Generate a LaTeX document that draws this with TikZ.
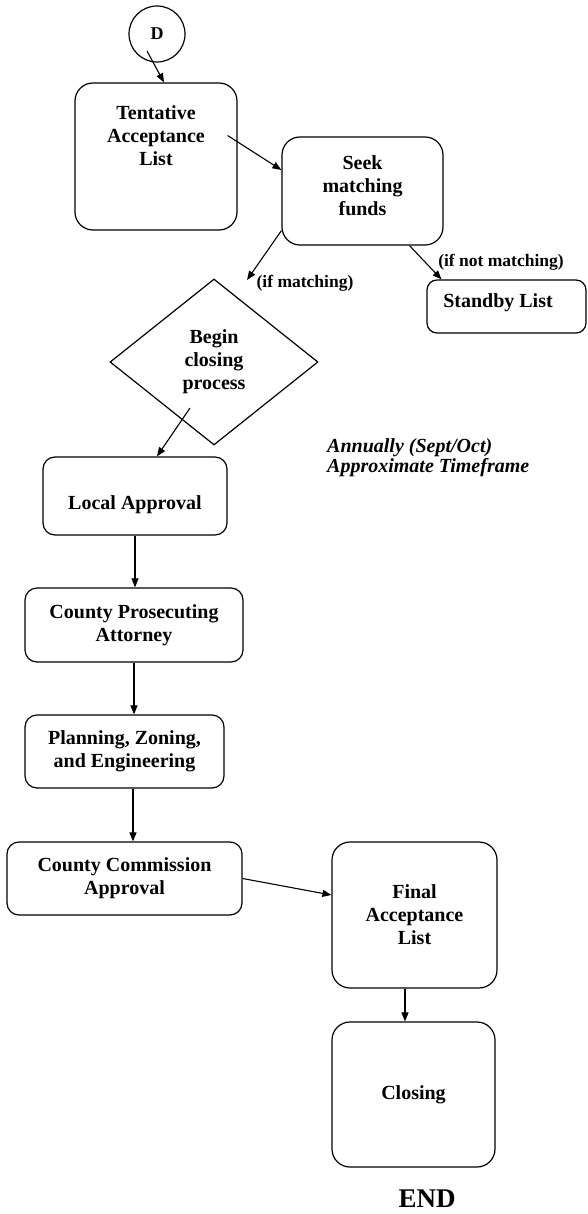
\documentclass[tikz,border=0pt]{standalone}
\usepackage{fontspec}
\setmainfont{Liberation Serif}
\usetikzlibrary{shapes.geometric,arrows.meta}

\begin{document}
\begin{tikzpicture}[x=1pt, y=-1pt, >={Triangle[length=9pt,width=7pt]},
    txt/.style={inner sep=0pt, align=center, font=\bfseries\fontsize{20}{23}\selectfont},
    box/.style={txt, draw, line width=1.2pt, rounded corners=#1},
    box/.default=12pt,
    cond/.style={inner sep=0pt, font=\bfseries\fontsize{17.5}{20}\selectfont},
    flow/.style={->, line width=1.1pt}]
    \useasboundingbox (0, 0) rectangle (587, 1214);
    % start and the tentative list
    \node[circle, draw, line width=1.2pt, minimum size=56pt, inner sep=0pt,
      font=\bfseries\fontsize{18}{18}\selectfont] (dnode) at (157, 34) {D};
    \node[box=18pt, minimum width=162pt, minimum height=147pt,
      label={[txt, yshift=21pt]center:Tentative\\Acceptance\\List}] (tent) at (156, 156.5) {};
    \node[box=18pt, minimum width=161pt, minimum height=108pt,
      label={[txt, yshift=5pt]center:Seek\\matching\\funds}] (seek) at (362.5, 191) {};
    \node[box=10pt, minimum width=159pt, minimum height=53pt,
      label={[txt, shift={(-8.5pt,3.5pt)}]center:Standby List}] (standby) at (506.5, 306.5) {};
    \node[cond] (ifmatch) at (305, 283) {(if matching)};
    \node[cond] (ifnot) at (501, 262) {(if not matching)};
    \coordinate (matchend) at (247, 280);
    \draw[flow] ([shift={(-10, 17)}]dnode.center) -- ([xshift=8pt]tent.north);
    \draw[flow] ([shift={(-10, -21)}]tent.east) -- ([shift={(0, -21)}]seek.west);
    \draw[flow] ([xshift=47pt]seek.south) -- ([xshift=-65pt]standby.north);
    \draw[flow] ([shift={(0, -15)}]seek.south west) -- (matchend);
    % closing process
    \node[diamond, txt, draw, line width=1.2pt, minimum width=208pt, minimum height=166pt]
      (diam) at (214, 362) {Begin\\closing\\process};
    \node[inner sep=0pt, anchor=west, align=left,
      font=\bfseries\itshape\fontsize{20}{20}\selectfont] (timeframe) at (327, 458)
      {Annually (Sept/Oct)\\Approximate Timeframe};
    \node[box, minimum width=184pt, minimum height=78pt,
      label={[txt, yshift=-9pt]center:Local Approval}] (local) at (135, 496) {};
    \node[box, minimum width=218pt, minimum height=74pt] (county) at (134, 625)
      {County Prosecuting\\Attorney};
    \node[box, minimum width=199pt, minimum height=73pt] (plan) at (124.5, 751.5)
      {Planning, Zoning,\\and Engineering};
    \node[box, minimum width=235pt, minimum height=73pt] (comm) at (124.5, 878.5)
      {County Commission\\Approval};
    \draw[flow] ([shift={(-24, 46)}]diam.center) -- ([xshift=22pt]local.north);
    \draw[flow] (local.south) -- (local.south |- county.north);
    \draw[flow] (county.south) -- (county.south |- plan.north);
    \draw[flow] ([xshift=8.5pt]plan.south) -- ([xshift=8.5pt]plan.south |- comm.north);
    % final list and closing
    \node[box=18pt, minimum width=165pt, minimum height=146pt] (final) at (414.5, 915)
      {Final\\Acceptance\\List};
    \node[box=18pt, minimum width=163pt, minimum height=145pt] (closing) at (413.5, 1094.5)
      {Closing};
    \node[inner sep=0pt, font=\bfseries\fontsize{27}{27}\selectfont] (endtxt) at (427, 1199) {END};
    \draw[flow] (comm.east) -- ([yshift=20pt]final.west);
    \draw[flow] ([xshift=-9.5pt]final.south) -- ([xshift=-9.5pt]final.south |- closing.north);
  \end{tikzpicture}
\end{document}
